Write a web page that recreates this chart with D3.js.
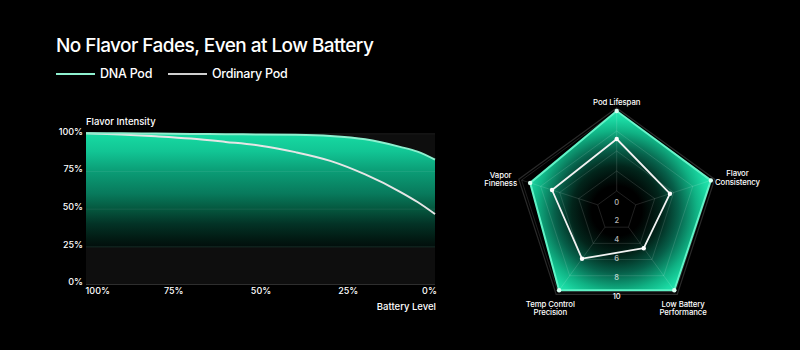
<!DOCTYPE html>
<html>
<head>
<meta charset="utf-8">
<script src="https://cdn.jsdelivr.net/npm/d3@7/dist/d3.min.js"></script>
<style>
  html, body { margin: 0; padding: 0; background: #000; }
  svg { display: block; font-family: Inter, "Noto Sans", sans-serif; }
</style>
</head>
<body>
<svg id="chart" width="800" height="350"></svg>
<script>
// ---------- DATA ----------
const battery = [100, 90, 80, 70, 60, 50, 40, 30, 20, 10, 5, 0];
const dnaPod = [100, 100, 99.8, 99.6, 99.4, 99.2, 99, 98.2, 96, 91, 87.8, 82.5];
const ordinaryPod = [100, 99.2, 98, 96.5, 94.3, 91.8, 87.5, 81.7, 72.7, 61.2, 54.4, 46.4];
const xTicks = [100, 75, 50, 25, 0];
const yTicks = [0, 25, 50, 75, 100];
const seriesNames = ["DNA Pod", "Ordinary Pod"];

const radarAxes = ["Pod Lifespan", "Flavor\nConsistency", "Low Battery\nPerformance", "Temp Control\nPrecision", "Vapor\nFineness"];
const radarDna = [10, 9.9, 9.8, 9.8, 9.1];
const radarOrdinary = [7.2, 5.6, 4.6, 5.9, 6.8];
const radarTicks = [0, 2, 4, 6, 8, 10];
const radarRings = [2, 4, 6, 8, 10];

// ---------- SETUP ----------
const svg = d3.select("#chart");
const defs = svg.append("defs");
svg.append("rect").attr("width", 800).attr("height", 350).attr("fill", "#000");

const DNA_COLOR = "#8ef0cf";
const ORD_COLOR = "#e6e6e6";

// Title
svg.append("text").attr("x", 56).attr("y", 52)
  .attr("fill", "#fff").attr("font-size", 19).attr("font-weight", 500)
  .attr("letter-spacing", -0.55)
  .text("No Flavor Fades, Even at Low Battery");

// Legend
const legendX = [56, 168];
const legendColors = [DNA_COLOR, "#cfcfcf"];
seriesNames.forEach((name, i) => {
  const g = svg.append("g").attr("transform", `translate(${legendX[i]},74)`);
  g.append("line").attr("x1", 0).attr("x2", 39).attr("y1", 0).attr("y2", 0)
    .attr("stroke", legendColors[i]).attr("stroke-width", 2.2);
  g.append("text").attr("x", 44).attr("y", 0).attr("dy", "0.35em")
    .attr("fill", "#fff").attr("font-size", 12.5).attr("font-weight", 500)
    .attr("letter-spacing", -0.25)
    .text(name);
});

// ---------- LINE CHART ----------
const L = { left: 86, right: 435, top: 133.3, bottom: 284 };
const x = d3.scaleLinear().domain([100, 0]).range([L.left, L.right]);
const y = d3.scaleLinear().domain([0, 100]).range([L.bottom, L.top]);

// plot background
svg.append("rect").attr("x", L.left).attr("y", L.top)
  .attr("width", L.right - L.left).attr("height", L.bottom - L.top)
  .attr("fill", "#0e0e0e");

// gradient for DNA area
const ag = defs.append("linearGradient").attr("id", "areaGrad")
  .attr("gradientUnits", "userSpaceOnUse")
  .attr("x1", 0).attr("x2", 0).attr("y1", y(100)).attr("y2", y(0));
[[0, "#17dba3", 1], [0.12, "#12c594", 1], [0.25, "#0b9d76", 1], [0.4, "#087a5c", 1],
 [0.5, "#05583f", 1], [0.6, "#033326", 1], [0.7, "#021a13", 1], [0.75, "#020f0c", 1],
 [0.752, "#000", 0], [1, "#000", 0]].forEach(s => {
  ag.append("stop").attr("offset", s[0]).attr("stop-color", s[1]).attr("stop-opacity", s[2]);
});

const dnaData = battery.map((b, i) => ({ b, v: dnaPod[i] }));
const ordData = battery.map((b, i) => ({ b, v: ordinaryPod[i] }));

svg.append("path").datum(dnaData)
  .attr("fill", "url(#areaGrad)")
  .attr("d", d3.area().curve(d3.curveMonotoneX).x(d => x(d.b)).y0(y(0)).y1(d => y(d.v)));

// gridlines + y axis
const yAxis = svg.append("g").attr("transform", `translate(${L.left},0)`)
  .call(d3.axisLeft(y).tickValues(yTicks).tickFormat(d => d + "%")
    .tickSize(-(L.right - L.left)).tickPadding(3));
yAxis.select(".domain").remove();
yAxis.selectAll(".tick line")
  .attr("stroke", d => d === 0 ? "#2e2e2e" : (d === 25 ? "rgba(60,200,160,0.18)" : "rgba(255,255,255,0.07)"))
  .attr("stroke-width", 1);
yAxis.selectAll(".tick text")
  .attr("fill", "#fff").attr("font-size", 9).attr("font-weight", 500)
  .attr("dy", "0.1em")
  .attr("font-family", "Inter, sans-serif");

// x axis
const xAxis = svg.append("g").attr("transform", `translate(0,${L.bottom})`)
  .call(d3.axisBottom(x).tickValues(xTicks).tickFormat(d => d + "%").tickSize(0).tickPadding(4));
xAxis.select(".domain").remove();
xAxis.selectAll(".tick text")
  .attr("fill", "#fff").attr("font-size", 9).attr("font-weight", 500)
  .attr("font-family", "Inter, sans-serif")
  .attr("text-anchor", d => d === 100 ? "start" : (d === 0 ? "end" : "middle"))
  .attr("dx", d => d === 0 ? "0.15em" : (d === 100 ? "-0.1em" : 0));

// lines
svg.append("path").datum(ordData)
  .attr("fill", "none").attr("stroke", ORD_COLOR).attr("stroke-width", 2)
  .attr("d", d3.line().curve(d3.curveMonotoneX).x(d => x(d.b)).y(d => y(d.v)));
svg.append("path").datum(dnaData)
  .attr("fill", "none").attr("stroke", DNA_COLOR).attr("stroke-width", 2)
  .attr("d", d3.line().curve(d3.curveMonotoneX).x(d => x(d.b)).y(d => y(d.v)));

// axis titles
svg.append("text").attr("x", L.left).attr("y", 125)
  .attr("fill", "#fff").attr("font-size", 9.5).attr("font-weight", 500)
  .text("Flavor Intensity");
svg.append("text").attr("x", L.right + 1).attr("y", 309.5).attr("text-anchor", "end")
  .attr("fill", "#fff").attr("font-size", 9.5).attr("font-weight", 500)
  .text("Battery Level");

// ---------- RADAR ----------
const cx = 616.7, cy = 211, R = 100;
const r = d3.scaleLinear().domain([0, 10]).range([0, R]);
const angle = d3.scaleLinear().domain([0, radarAxes.length]).range([-Math.PI / 2, 1.5 * Math.PI]);
const pt = (i, v) => [cx + r(v) * Math.cos(angle(i)), cy + r(v) * Math.sin(angle(i))];
const polyLine = d3.line().curve(d3.curveLinearClosed);

// radial gradient for DNA
const rg = defs.append("radialGradient").attr("id", "radarGrad")
  .attr("gradientUnits", "userSpaceOnUse")
  .attr("cx", cx).attr("cy", cy).attr("r", R);
[[0, "#000000"], [0.25, "#000000"], [0.45, "#02251b"], [0.62, "#07604a"],
 [0.8, "#10b284"], [0.92, "#1bdaa4"], [1, "#26e8b2"]].forEach(s => {
  rg.append("stop").attr("offset", s[0]).attr("stop-color", s[1]);
});

// outer ring (behind)
svg.append("path")
  .attr("d", polyLine(radarAxes.map((a, i) => pt(i, 10.3))))
  .attr("fill", "none").attr("stroke", "#2a2a2a").attr("stroke-width", 1.2);

// DNA polygon
svg.append("path")
  .attr("d", polyLine(radarDna.map((v, i) => pt(i, v))))
  .attr("fill", "url(#radarGrad)")
  .attr("stroke", "#5ff3c6").attr("stroke-width", 2).attr("stroke-linejoin", "round");

// grid rings
radarRings.forEach(v => {
  svg.append("path")
    .attr("d", polyLine(radarAxes.map((a, i) => pt(i, v))))
    .attr("fill", "none").attr("stroke", "rgba(255,255,255,0.16)").attr("stroke-width", 0.8);
});
// spokes
radarAxes.forEach((a, i) => {
  const p0 = pt(i, 2), p1 = pt(i, 10);
  svg.append("line").attr("x1", p0[0]).attr("y1", p0[1]).attr("x2", p1[0]).attr("y2", p1[1])
    .attr("stroke", "rgba(255,255,255,0.16)").attr("stroke-width", 0.8);
});

// Ordinary polygon
svg.append("path")
  .attr("d", polyLine(radarOrdinary.map((v, i) => pt(i, v))))
  .attr("fill", "none").attr("stroke", "#f2f2f2").attr("stroke-width", 1.8).attr("stroke-linejoin", "round");

// dots
radarDna.forEach((v, i) => {
  const p = pt(i, v);
  svg.append("circle").attr("cx", p[0]).attr("cy", p[1]).attr("r", 2.2).attr("fill", "#d9fff2");
});
radarOrdinary.forEach((v, i) => {
  const p = pt(i, v);
  svg.append("circle").attr("cx", p[0]).attr("cy", p[1]).attr("r", 2.2).attr("fill", "#fff");
});

// tick labels
const tickY = d3.scaleLinear().domain([0, 10]).range([cy - 9, cy + 85]);
radarTicks.forEach(t => {
  svg.append("text").attr("x", cx).attr("y", tickY(t)).attr("dy", "0.35em")
    .attr("text-anchor", "middle").attr("font-size", 7.5).attr("font-weight", 500)
    .attr("fill", t === 10 ? "#fff" : "rgba(255,255,255,0.72)")
    .text(t);
});

// axis labels
const labelR = [109, 127, 113, 113, 122];
const labelDy = [0, 6, 6, 6, 6];
radarAxes.forEach((a, i) => {
  const cxL = cx + labelR[i] * Math.cos(angle(i));
  const cyL = cy + labelR[i] * Math.sin(angle(i)) + labelDy[i];
  const lines = a.split("\n");
  const lh = 8.6;
  const t = svg.append("text").attr("text-anchor", "middle")
    .attr("fill", "#fff").attr("font-size", 7.8).attr("font-weight", 500)
    .attr("letter-spacing", -0.1);
  lines.forEach((ln, k) => {
    t.append("tspan").attr("x", cxL)
      .attr("y", cyL + (k - (lines.length - 1) / 2) * lh)
      .attr("dy", "0.35em").text(ln);
  });
});
</script>
</body>
</html>
